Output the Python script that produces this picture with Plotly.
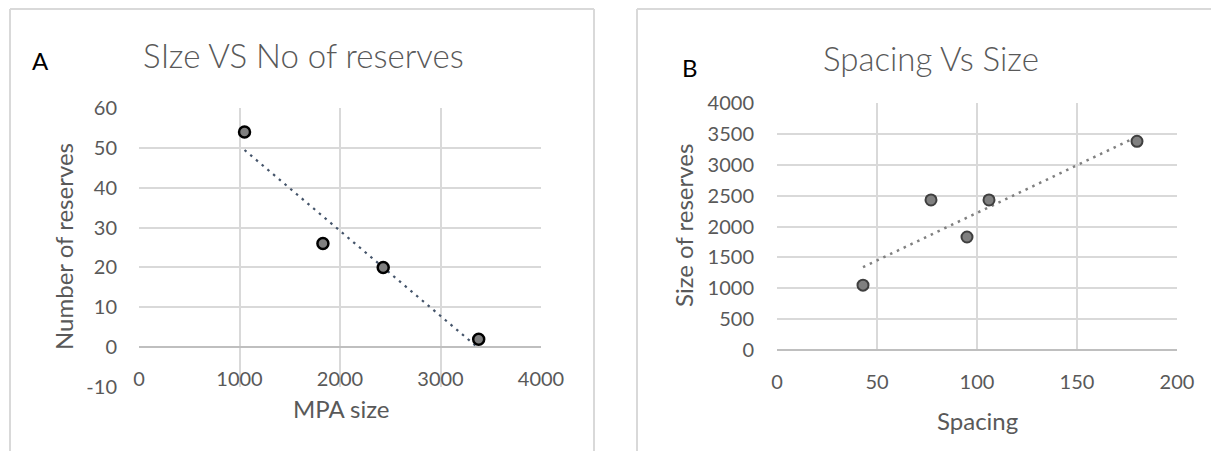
import numpy as np
import plotly.graph_objects as go

# ---- Data ----
mpa_size = [1050, 1830, 2430, 3380]
num_reserves = [54, 26, 20, 2]

spacing = [43, 77, 95, 106, 180]
reserve_size = [1050, 2430, 1830, 2430, 3380]

a_xticks = [0, 1000, 2000, 3000, 4000]
a_yticks = [-10, 0, 10, 20, 30, 40, 50, 60]
a_yticktext = ["-10", "0", "10", "20", "30", "40", "50", "60"]
b_xticks = [0, 50, 100, 150, 200]
b_yticks = [0, 500, 1000, 1500, 2000, 2500, 3000, 3500, 4000]

title_a = "SIze VS No of reserves"
title_b = "Spacing Vs Size"

W, H = 1211, 451
FONT = "Lato"
GRID = "#D9D9D9"
TXT = "#595959"


def px(x):
    return x / W


def py(y):
    return 1 - y / H


# linear trendlines (least squares fit of the data)
ka, ba = np.polyfit(mpa_size, num_reserves, 1)
ta_x = [min(mpa_size), max(mpa_size)]
ta_y = [ka * v + ba for v in ta_x]
kb, bb = np.polyfit(spacing, reserve_size, 1)
tb_x = [min(spacing), max(spacing)]
tb_y = [kb * v + bb for v in tb_x]

fig = go.Figure()

fig.add_trace(go.Scatter(x=ta_x, y=ta_y, mode="lines", xaxis="x", yaxis="y",
                         line=dict(color="#44546A", width=2.2, dash="2.5px,5px"),
                         showlegend=False, hoverinfo="skip"))
fig.add_trace(go.Scatter(x=mpa_size, y=num_reserves, mode="markers", xaxis="x", yaxis="y",
                         marker=dict(size=11, color="#7F7F7F",
                                     line=dict(color="#000000", width=2.5)),
                         showlegend=False))

fig.add_trace(go.Scatter(x=tb_x, y=tb_y, mode="lines", xaxis="x2", yaxis="y2",
                         line=dict(color="#7F7F7F", width=2.5, dash="2.5px,5px"),
                         showlegend=False, hoverinfo="skip"))
fig.add_trace(go.Scatter(x=spacing, y=reserve_size, mode="markers", xaxis="x2", yaxis="y2",
                         marker=dict(size=11, color="#808080",
                                     line=dict(color="#3F3F3F", width=2)),
                         showlegend=False))

tickfont = dict(family=FONT, size=20, color=TXT)

fig.update_layout(
    template="none",
    width=W, height=H,
    margin=dict(l=0, r=0, t=0, b=0, autoexpand=False),
    paper_bgcolor="white", plot_bgcolor="white",
    xaxis=dict(domain=[px(139), px(541)], anchor="y", range=[0, 4000], automargin=False,
               tickvals=a_xticks, showgrid=True, gridcolor=GRID, gridwidth=2,
               zeroline=False, showline=False, ticks="",
               tickfont=tickfont, ticklabelstandoff=-22),
    yaxis=dict(domain=[py(387), py(108)], anchor="x", range=[-10, 60], automargin=False,
               tickvals=a_yticks, ticktext=a_yticktext,
               showgrid=True, gridcolor=GRID, gridwidth=2,
               zeroline=True, zerolinecolor="#BFBFBF", zerolinewidth=2,
               showline=False, ticks="", tickfont=tickfont, ticklabelstandoff=21),
    xaxis2=dict(domain=[px(777), px(1177)], anchor="y2", range=[0, 200], automargin=False,
                tickvals=b_xticks, showgrid=True, gridcolor=GRID, gridwidth=2,
                zeroline=False, showline=False, ticks="",
                tickfont=tickfont, ticklabelstandoff=18),
    yaxis2=dict(domain=[py(350), py(103)], anchor="x2", range=[0, 4000], automargin=False,
                tickvals=b_yticks, showgrid=True, gridcolor=GRID, gridwidth=2,
                zeroline=True, zerolinecolor="#BFBFBF", zerolinewidth=2,
                showline=False, ticks="", tickfont=tickfont, ticklabelstandoff=22),
)

# chart frames
frame = dict(color=GRID, width=2)
shapes = [
    dict(type="line", xref="paper", yref="paper", x0=px(10), x1=px(10), y0=0, y1=py(9), line=frame),
    dict(type="line", xref="paper", yref="paper", x0=px(10), x1=px(594), y0=py(9), y1=py(9), line=frame),
    dict(type="line", xref="paper", yref="paper", x0=px(594), x1=px(594), y0=0, y1=py(9), line=frame),
    dict(type="line", xref="paper", yref="paper", x0=px(637), x1=px(637), y0=0, y1=py(9), line=frame),
    dict(type="line", xref="paper", yref="paper", x0=px(637), x1=1, y0=py(9), y1=py(9), line=frame),
]
fig.update_layout(shapes=shapes)

ann = [
    dict(text=title_a, x=px(303), y=py(55), font=dict(family=FONT, size=33, color=TXT, weight=300)),
    dict(text=title_b, x=px(931), y=py(58), font=dict(family=FONT, size=33, color=TXT, weight=300)),
    dict(text="A", x=px(40), y=py(60), font=dict(family=FONT, size=24, color="#000000")),
    dict(text="B", x=px(690), y=py(67), font=dict(family=FONT, size=24, color="#000000")),
    dict(text="Number of reserves", x=px(63), y=py(247), textangle=-90,
         font=dict(family=FONT, size=24, color=TXT)),
    dict(text="MPA size", x=px(341), y=py(408), font=dict(family=FONT, size=24, color=TXT)),
    dict(text="Size of reserves", x=px(683), y=py(226), textangle=-90,
         font=dict(family=FONT, size=24, color=TXT)),
    dict(text="Spacing", x=px(977), y=py(420), font=dict(family=FONT, size=24, color=TXT)),
]
for a in ann:
    a.update(xref="paper", yref="paper", showarrow=False, xanchor="center", yanchor="middle")
fig.update_layout(annotations=ann)

fig.write_html(
    "out.html",
    config={"displayModeBar": False},
    post_script="document.body.style.margin='0';document.body.style.overflow='hidden';",
)
